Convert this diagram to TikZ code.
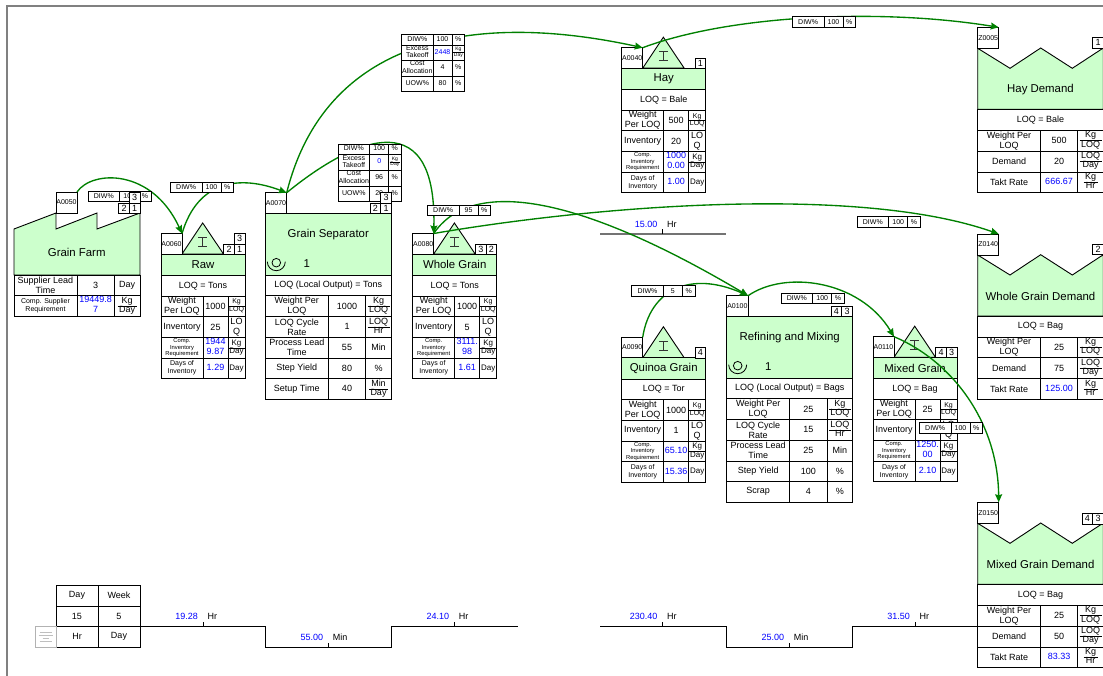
\documentclass[tikz,border=0pt]{standalone}
\usepackage{fontspec}
\setmainfont{Liberation Sans}
\usetikzlibrary{arrows.meta}

\definecolor{boxgreen}{RGB}{204,255,204}
\definecolor{flowgreen}{RGB}{0,128,0}

\def \ft{\fontsize{11.4}{13}\selectfont}
\def \fa{\fontsize{9}{10}\selectfont}
\def \fu{\fontsize{8}{9}\selectfont}
\def \fb{\fontsize{7}{8}\selectfont}
\def \fe{\fontsize{7}{7.4}\selectfont}
\def \fc{\fontsize{5.8}{6.6}\selectfont}
\def \fd{\fontsize{5}{5.6}\selectfont}
\def \ml#1#2{{#1\begin{tabular}{@{}c@{}}#2\end{tabular}}}
\def \bl#1{{\color{blue}\begin{tabular}{@{}c@{}}#1\end{tabular}}}
\def \fr#1#2{\renewcommand\arraystretch{.88}\begin{tabular}{@{\,}c@{\,}}#1\\\hline #2\end{tabular}}

\tikzset{
  cellbox/.style={draw,fill=white,anchor=north west,inner sep=0pt,outer sep=0pt,
    align=center,font=\fa,line width=.9pt},
  greenshape/.style={draw,fill=boxgreen,line width=.9pt,line join=miter},
  ibeam/.style={draw=black!80,line width=.7pt},
  flow/.style={draw=flowgreen,line width=1.35pt,-{Stealth[length=8pt,width=7pt,inset=1pt]}},
  leadline/.style={draw=black,line width=.9pt},
  leadlabel/.style={inner sep=0pt,font=\fa},
}

\newcommand{\cell}[6][]{\node[cellbox,#1,minimum width=#4pt,minimum height=#5pt] (#2) at (#3) {#6};}
\newcommand{\trow}[6]{
  \cell{#1-l}{0,#2}{\colA}{#3}{#4}
  \cell{#1-v}{\colA,#2}{\colB}{#3}{#5}
  \cell{#1-u}{\colA+\colB,#2}{\colC}{#3}{#6}
}
\newcommand{\numbox}[4]{\cell[font=\fa]{#1}{#2,#3}{10.6}{10.4}{#4}}
\newcommand{\diwbox}[4]{
  \cell[font=\fb]{#1-a}{#2,#3}{31.7}{10.5}{DIW\%}
  \cell[font=\fb]{#1-b}{#2+31.7,#3}{19}{10.5}{#4}
  \cell[font=\fb]{#1-c}{#2+50.7,#3}{12.6}{10.5}{\%}
}
\newcommand{\invbox}[9]{
  \begin{scope}[shift={(#2,#3)}]
    \def\colA{42}\def\colB{25}\def\colC{17}
    \draw[greenshape] (21,20.5) -- (41.7,-10.5) -- (62.5,20.5) -- cycle;
    \draw[ibeam] (37.3,4) -- (46.3,4) (41.8,4) -- (41.8,13) (37.3,13) -- (46.3,13);
    \cell[font=\fb]{#1}{0,0}{21}{20.5}{#1}
    \cell[fill=boxgreen,font=\ft]{#1-title}{0,20.5}{84}{21.5}{#4}
    \cell{#1-loq}{0,42}{84}{20.5}{#5}
    \trow{#1-wt}{62.5}{20.5}{Weight\\Per LOQ}{#6}{\fb\fr{Kg}{LOQ}}
    \trow{#1-in}{83}{21}{Inventory}{#7}{LO\\Q}
    \trow{#1-cr}{104}{20.5}{\ml{\fc}{Comp.\\Inventory\\Requirement}}{\bl{#8}}{\fu\fr{Kg}{Day}}
    \trow{#1-di}{124.5}{20.5}{\ml{\fb}{Days of\\Inventory}}{\bl{#9}}{\fu Day}
  \end{scope}
}
\newcommand{\procbox}[9]{
  \begin{scope}[shift={(#2,#3)}]
    \def\colA{63}\def\colB{37.4}\def\colC{25.6}
    \cell[font=\fb]{#1}{0,0}{21.4}{20.6}{#1}
    \cell[fill=boxgreen,font=\ft]{#1-title}{0,20.6}{126}{61.7}{}
    \node[leadlabel,font=\ft] (#1-name) at (63,41.8) {#4};
    \draw[line width=.8pt] (11,70) circle (4.3);
    \draw[line width=.8pt] (2,69) arc (180:0:9);
    \node[leadlabel,font=\ft] (#1-ops) at (41.5,70.5) {1};
    \cell{#1-loq}{0,82.3}{126}{20.7}{#5}
    \trow{#1-wt}{103}{20.7}{Weight Per\\LOQ}{#6}{\fr{Kg}{LOQ}}
    \trow{#1-cy}{123.7}{21}{LOQ Cycle\\Rate}{#7}{\fr{LOQ}{Hr}}
    \trow{#1-pl}{144.7}{20.6}{Process Lead\\Time}{#8}{Min}
    \trow{#1-sy}{165.3}{20.4}{Step Yield}{#9}{\%}
  \end{scope}
}
\newcommand{\custbox}[8]{
  \begin{scope}[shift={(#2,#3)}]
    \def\colA{62.6}\def\colB{37.4}\def\colC{25.6}
    \draw[greenshape] (0,82) -- (0,21) -- (32.3,41) -- (63,20.7) -- (94.6,41) -- (125.6,20.7) -- (125.6,82) -- cycle;
    \cell[font=\fb]{#1}{0,0}{21}{21}{#1}
    \node[leadlabel,font=\ft] (#1-name) at (62.8,62.6) {#4};
    \cell{#1-loq}{0,82}{125.6}{21}{#5}
    \trow{#1-wt}{103}{20.7}{Weight Per\\LOQ}{#6}{\fr{Kg}{LOQ}}
    \trow{#1-de}{123.7}{21}{Demand}{#7}{\fr{LOQ}{Day}}
    \trow{#1-ta}{144.7}{20.6}{Takt Rate}{\bl{#8}}{\fr{Kg}{Hr}}
  \end{scope}
}
\newcommand{\leadtick}[5]{
  \begin{scope}[shift={(#2,#3)}]
    \draw[line width=.8pt] (0,0) -- (0,-4.5);
    \node[leadlabel,anchor=east,text=blue] (#1-v) at (-5,-10) {#4};
    \node[leadlabel,anchor=west] (#1-u) at (4.3,-10) {#5};
  \end{scope}
}

\begin{document}
\begin{tikzpicture}[x=1pt,y=-1pt]

    \useasboundingbox (0,0) rectangle (1103,676);
    \draw[black!50,line width=2pt] (6.7,676) -- (6.7,5.7) -- (1103,5.7);

    \draw[greenshape] (14,275) -- (14,229) -- (56,213) -- (56,229) -- (97,213) -- (97,229) -- (140,213) -- (140,275) -- cycle;
    \cell[font=\fb]{A0050}{56,192}{21}{21}{A0050}
    \node[leadlabel,font=\ft] (farm-name) at (76.7,252.3) {Grain Farm};
    \begin{scope}[shift={(14,275)}]
      \def\colA{63}\def\colB{37.3}\def\colC{25.7}
      \trow{farm-lt}{0}{20.7}{Supplier Lead\\Time}{3}{Day}
      \trow{farm-cr}{20.7}{20.5}{\ml{\fb}{Comp. Supplier\\Requirement}}{\bl{19449.8\\7}}{\fr{Kg}{Day}}
    \end{scope}

    \invbox{A0060}{161}{233.5}{Raw}{LOQ = Tons}{1000}{25}{1944\\9.87}{1.29}
    \invbox{A0080}{412.7}{233.5}{Whole Grain}{LOQ = Tons}{1000}{5}{3111.\\98}{1.61}
    \invbox{A0040}{621.7}{47.7}{Hay}{LOQ = Bale}{500}{20}{1000\\0.00}{1.00}
    \invbox{A0090}{621.7}{337.3}{Quinoa Grain}{LOQ = Tor}{1000}{1}{65.10}{15.36}
    \invbox{A0110}{873}{336.7}{Mixed Grain}{LOQ = Bag}{25}{4}{1250.\\00}{2.10}

    \procbox{A0070}{265.3}{192.7}{Grain Separator}{LOQ (Local Output) = Tons}{1000}{1}{55}{80}
    \begin{scope}[shift={(265.3,192.7)}]
      \def\colA{63}\def\colB{37.4}\def\colC{25.6}
      \trow{A0070-st}{185.7}{20.6}{Setup Time}{40}{\fr{Min}{Day}}
    \end{scope}

    \procbox{A0100}{726.7}{295.7}{Refining and Mixing}{LOQ (Local Output) = Bags}{25}{15}{25}{100}
    \begin{scope}[shift={(726.7,295.7)}]
      \def\colA{63}\def\colB{37.4}\def\colC{25.6}
      \trow{A0100-sc}{185.7}{20.6}{Scrap}{4}{\%}
    \end{scope}

    \custbox{Z0005}{977.7}{27.3}{Hay Demand}{LOQ = Bale}{500}{20}{666.67}
    \custbox{Z0140}{977.7}{234}{Whole Grain Demand}{LOQ = Bag}{25}{75}{125.00}
    \custbox{Z0150}{977.7}{502.3}{Mixed Grain Demand}{LOQ = Bag}{25}{50}{83.33}

    \cell{dayhead}{56,585}{42}{21}{Day}
    \cell{weekhead}{98,585}{42}{21}{Week}
    \cell{dayval}{56,606}{42}{20}{15}
    \cell{weekval}{98,606}{42}{20}{5}
    \cell{dayunit}{56,626}{42}{21}{Hr}
    \cell{weekunit}{98,626}{42}{21}{Day}
    \node[draw=black!30,line width=.6pt,anchor=north west,minimum width=21pt,minimum height=21pt,inner sep=0pt] (legend) at (35,626) {};
    \foreach \y/\w in {632/6,635/7,638/3,641.5/6}
      \draw[black!25,line width=.5pt] (45.5-\w,\y) -- (45.5+\w,\y);

    \draw[leadline] (weekunit.north east) -- (265.3,626) -- (265.3,647) -- (391.3,647) -- (391.3,626) -- (517.5,626);
    \coordinate (leadstart) at (600,626);
    \draw[leadline] (leadstart) -- (726.7,626) -- (726.7,647) -- (852.3,647) -- (852.3,626) -- (Z0150-de-l.north west);
    \coordinate (leadtop) at (600,234);
    \coordinate (leadtopend) at (726,234);
    \draw[black!55,line width=1.1pt] (leadtop) -- (leadtopend);
    \leadtick{lt1}{203}{626}{19.28}{Hr}
    \leadtick{lt2}{328.3}{647}{55.00}{Min}
    \leadtick{lt3}{454.3}{626}{24.10}{Hr}
    \leadtick{lt4}{662.7}{626}{230.40}{Hr}
    \leadtick{lt5}{789.3}{647}{25.00}{Min}
    \leadtick{lt6}{915}{626}{31.50}{Hr}
    \leadtick{lt7}{662.7}{234}{15.00}{Hr}

    \draw[flow] (A0050.north east) .. controls (92,170) and (152,168) .. (A0060.north east);
    \draw[flow] (A0060.north east) .. controls (198,180) and (240,175) .. (A0070.north east);
    \draw[flow] (A0070.north east) .. controls (325,40) and (470,10) .. (A0040.north east);
    \draw[flow] (A0040.north east) .. controls (730,15) and (880,8) .. (Z0005.north east);
    \draw[flow] (A0070.north east) .. controls (345,145) and (437,95) .. (A0080.north east);
    \draw[flow] (A0080.north east) .. controls (600,205) and (860,185) .. (Z0140.north east);
    \draw[flow] (A0080.north east) .. controls (470,180) and (570,190) .. (A0100.north east);
    \draw[flow] (A0090.north east) .. controls (650,290) and (690,270) .. (A0100.north east);
    \draw[flow] (A0100.north east) .. controls (785,270) and (860,280) .. (A0110.north east);
    \draw[flow] (A0110.north east) .. controls (950,360) and (998,420) .. (Z0150.north east);

    \diwbox{diwfarm}{88}{191}{100}
    \diwbox{diwraw}{170.3}{182}{100}
    \diwbox{diwwhole}{427.3}{205}{95}
    \diwbox{diwhay}{792.3}{16.5}{100}
    \diwbox{diwdemand}{857}{216.8}{100}
    \diwbox{diwquinoa}{631.7}{285.7}{5}
    \diwbox{diwrefine}{781}{293}{100}
    \diwbox{diwmixed}{919.3}{422.8}{100}

    \begin{scope}[shift={(401.7,34.3)}]
      \def\colA{31.3}\def\colB{19}\def\colC{12.7}
      \trow{ta-di}{0}{10.7}{\ml{\fb}{DIW\%}}{\ml{\fb}{100}}{\ml{\fb}{\%}}
      \trow{ta-ex}{10.7}{15.3}{\ml{\fe}{Excess\\Takeoff}}{\fb\bl{2448}}{\fd\fr{Kg}{Day}}
      \trow{ta-ca}{26}{15.7}{\ml{\fe}{Cost\\Allocation}}{\ml{\fb}{4}}{\ml{\fb}{\%}}
      \trow{ta-uo}{41.7}{15}{\ml{\fb}{UOW\%}}{\ml{\fb}{80}}{\ml{\fb}{\%}}
    \end{scope}
    \begin{scope}[shift={(338,144)}]
      \def\colA{31.7}\def\colB{19}\def\colC{12.3}
      \trow{tb-di}{0}{10.7}{\ml{\fb}{DIW\%}}{\ml{\fb}{100}}{\ml{\fb}{\%}}
      \trow{tb-ex}{10.7}{15.3}{\ml{\fe}{Excess\\Takeoff}}{\fb\bl{0}}{\fd\fr{Kg}{Day}}
      \trow{tb-ca}{26}{16}{\ml{\fe}{Cost\\Allocation}}{\ml{\fb}{96}}{\ml{\fb}{\%}}
      \trow{tb-uo}{42}{15}{\ml{\fb}{UOW\%}}{\ml{\fb}{20}}{\ml{\fb}{\%}}
    \end{scope}

    \numbox{n-farm3}{129.4}{192.7}{3}
    \numbox{n-farm2}{118.8}{203}{2}
    \numbox{n-farm1}{129.4}{203}{1}
    \numbox{n-raw3}{234.4}{233.7}{3}
    \numbox{n-raw2}{223.8}{244}{2}
    \numbox{n-raw1}{234.4}{244}{1}
    \numbox{n-sep3}{380.7}{192.7}{3}
    \numbox{n-sep2}{370.1}{203}{2}
    \numbox{n-sep1}{380.7}{203}{1}
    \numbox{n-whole3}{475.5}{244}{3}
    \numbox{n-whole2}{486.1}{244}{2}
    \numbox{n-hay1}{695}{58}{1}
    \numbox{n-quinoa4}{695}{347.7}{4}
    \numbox{n-ref4}{831.1}{306}{4}
    \numbox{n-ref3}{841.7}{306}{3}
    \numbox{n-mixed4}{935.8}{347}{4}
    \numbox{n-mixed3}{946.4}{347}{3}
    \numbox{n-hayd1}{1092.7}{37.6}{1}
    \numbox{n-whold2}{1092.7}{244.4}{2}
    \numbox{n-mixd4}{1082.1}{513.6}{4}
    \numbox{n-mixd3}{1092.7}{513.6}{3}

\end{tikzpicture}
\end{document}
